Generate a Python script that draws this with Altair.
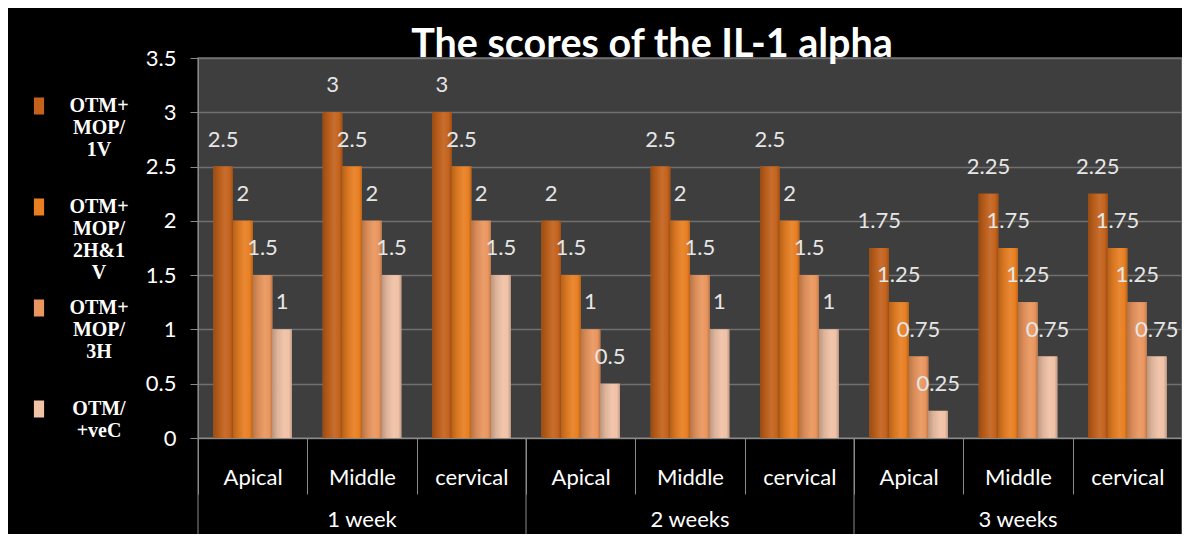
import altair as alt
import pandas as pd

weeks = ["1 week", "2 weeks", "3 weeks"]
regions = ["Apical", "Middle", "cervical"]
series = ["OTM+|MOP/|1V|", "OTM+|MOP/|2H&1|V", "OTM+|MOP/|3H|", "OTM/|+veC||"]
colors = ["#c4621c", "#e97f22", "#ea965e", "#f0c2a6"]

s1 = [2.5, 3, 3, 2, 2.5, 2.5, 1.75, 2.25, 2.25]
s2 = [2, 2.5, 2.5, 1.5, 2, 2, 1.25, 1.75, 1.75]
s3 = [1.5, 2, 2, 1, 1.5, 1.5, 0.75, 1.25, 1.25]
s4 = [1, 1.5, 1.5, 0.5, 1, 1, 0.25, 0.75, 0.75]
values = [s1, s2, s3, s4]

y_ticks = [0, 0.5, 1, 1.5, 2, 2.5, 3, 3.5]
title_text = "The scores of the IL-1 alpha"

cats = [f"{w}|{r}" for w in weeks for r in regions]

rows = []
for si, s in enumerate(series):
    for ci, c in enumerate(cats):
        rows.append({"cat": c, "series": s, "value": values[si][ci]})
df = pd.DataFrame(rows)

week_df = pd.DataFrame({"cat": [f"{w}|Middle" for w in weeks], "week": weeks})
sep_df = pd.DataFrame({"cat": [f"{w}|Apical" for w in weeks]})
end_df = pd.DataFrame({"cat": [cats[-1]]})

W, H = 984, 380
FONT = "Lato"
GRID = "#707070"
AXC = "#8a8a8a"


def shade(hexc, f):
    r, g, b = int(hexc[1:3], 16), int(hexc[3:5], 16), int(hexc[5:7], 16)
    if f < 1:
        r, g, b = r * f, g * f, b * f
    else:
        t = f - 1
        r, g, b = r + (255 - r) * t, g + (255 - g) * t, b + (255 - b) * t
    return "#%02x%02x%02x" % (int(r), int(g), int(b))


x_axis = alt.Axis(
    title=None,
    labelExpr="split(datum.value, '|')[1]",
    labelAngle=0,
    labelFont=FONT,
    labelFontSize=22,
    labelColor="white",
    labelBaseline="middle",
    labelPadding=-17,
    tickBand="extent",
    tickSize=56,
    tickColor=AXC,
    domainColor=AXC,
    grid=False,
)
x_scale = alt.Scale(domain=cats, paddingInner=0, paddingOuter=0)


def xenc(**kw):
    return alt.X("cat:N", sort=cats, scale=x_scale, axis=x_axis, **kw)


xoff = alt.XOffset("series:N", sort=series,
                   scale=alt.Scale(domain=series, paddingInner=0, paddingOuter=0.78))
yenc = alt.Y(
    "value:Q",
    scale=alt.Scale(domain=[0, 3.5], nice=False),
    axis=alt.Axis(
        title=None,
        values=y_ticks,
        format="~g",
        labelFont=FONT,
        labelFontSize=22,
        labelColor="white",
        labelPadding=14,
        tickSize=8,
        tickColor=AXC,
        domainColor=AXC,
        gridColor=GRID,
        gridWidth=1.5,
    ),
)

bars = alt.Chart(df).mark_bar().encode(
    x=xenc(),
    xOffset=xoff,
    y=yenc,
    color=alt.Color(
        "series:N",
        sort=series,
        scale=alt.Scale(domain=series, range=colors),
        legend=alt.Legend(
            orient="none",
            legendX=-169,
            legendY=38,
            title=None,
            symbolType="M-0.6,-1H0.6V1H-0.6Z",
            symbolSize=289,
            symbolStrokeWidth=0,
            labelFont="Liberation Serif",
            labelFontWeight="bold",
            labelFontSize=20,
            labelColor="white",
            labelExpr="split(datum.label, '|')",
            labelAlign="center",
            labelOffset=50,
            labelLimit=0,
            rowPadding=15,
            padding=0,
        ),
    ),
)

grad_layers = []
for s, c in zip(series, colors):
    grad = alt.Gradient(
        gradient="linear",
        x1=0, x2=1, y1=0, y2=0,
        stops=[
            alt.GradientStop(color=shade(c, 0.78), offset=0),
            alt.GradientStop(color=shade(c, 0.92), offset=0.25),
            alt.GradientStop(color=shade(c, 1.08), offset=0.6),
            alt.GradientStop(color=c, offset=0.85),
            alt.GradientStop(color=shade(c, 0.8), offset=1),
        ],
    )
    grad_layers.append(
        alt.Chart(df)
        .transform_filter(alt.datum.series == s)
        .mark_bar(fill=grad)
        .encode(x=xenc(), xOffset=xoff, y=yenc)
    )

labels = alt.Chart(df).mark_text(
    font=FONT, fontSize=22, color="#e6e6e6", baseline="alphabetic", dy=-20
).encode(
    x=xenc(),
    xOffset=xoff,
    y=yenc,
    text=alt.Text("value:Q", format="~g"),
)

week_text = alt.Chart(week_df).mark_text(
    font=FONT, fontSize=22, color="white", baseline="middle"
).encode(
    x=xenc(),
    y=alt.value(H + 82),
    text="week:N",
)

sep_rules = alt.Chart(sep_df).mark_rule(color=AXC, strokeWidth=1).encode(
    x=xenc(bandPosition=0),
    y=alt.value(H),
    y2=alt.value(H + 100),
)
end_rule = alt.Chart(end_df).mark_rule(color=AXC, strokeWidth=1).encode(
    x=xenc(bandPosition=1),
    y=alt.value(H),
    y2=alt.value(H + 100),
)

chart = (
    alt.layer(bars, *grad_layers, labels, week_text, sep_rules, end_rule)
    .properties(
        width=W,
        height=H,
        background="black",
        padding={"left": 190, "top": 50, "right": 0, "bottom": 96},
        autosize=alt.AutoSizeParams(type="none"),
        title=alt.TitleParams(
            text=title_text,
            font=FONT,
            fontSize=39.5,
            fontWeight="bold",
            color="white",
            anchor="middle",
            dx=-38,
            baseline="alphabetic",
            offset=0,
            dy=49,
        ),
    )
    .configure_view(fill="#3e3e3e", stroke="#6e6e6e", strokeWidth=1.5)
)

chart.save("out.html", embed_options={"renderer": "svg", "actions": False})
